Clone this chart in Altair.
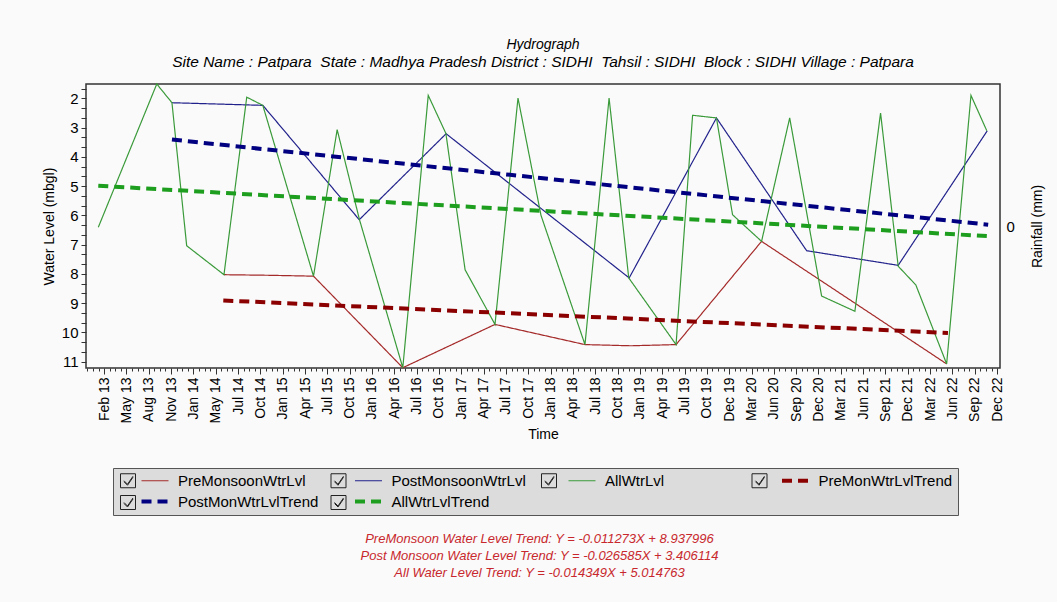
import json
import altair as alt
import pandas as pd

# ---------------- data ----------------
x_labels = ["Feb 13", "May 13", "Aug 13", "Nov 13", "Jan 14", "May 14", "Jul 14", "Oct 14",
            "Jan 15", "Apr 15", "Jul 15", "Oct 15", "Jan 16", "Apr 16", "Jul 16", "Oct 16",
            "Jan 17", "Apr 17", "Jul 17", "Oct 17", "Jan 18", "Apr 18", "Jul 18", "Oct 18",
            "Jan 19", "Apr 19", "Jul 19", "Oct 19", "Dec 19", "Mar 20", "Jun 20", "Sep 20",
            "Dec 20", "Mar 21", "Jun 21", "Sep 21", "Dec 21", "Mar 22", "Jun 22", "Sep 22", "Dec 22"]

series_names = ["PreMonsoonWtrLvl", "PostMonsoonWtrLvl", "AllWtrLvl",
                "PreMonWtrLvlTrend", "PostMonWtrLvlTrend", "AllWtrLvlTrend"]
series_colors = ["#A52A2A", "#22228C", "#3A9A3A", "#8B0000", "#000080", "#1E9E1E"]
series_widths = [1.2, 1.2, 1.2, 4, 4, 4]
series_dashes = [[1, 0], [1, 0], [1, 0], [10, 6], [10, 6], [10, 6]]

pre_t = [5.37, 7.40, 9.38, 13.38, 17.51, 21.54, 23.60, 25.62, 29.45, 37.74]
pre_v = [8.03, 8.05, 8.08, 11.21, 9.73, 10.42, 10.46, 10.42, 6.89, 11.08]

post_t = [3.04, 7.11, 11.43, 15.32, 23.52, 27.43, 31.47, 35.57, 39.56]
post_v = [2.15, 2.24, 6.15, 3.21, 8.14, 2.67, 7.21, 7.71, 3.11]

all_t = [-0.26, 2.36, 3.04, 3.70, 5.37, 6.39, 7.11, 9.38, 10.44, 11.44, 13.38, 14.52,
         15.31, 16.17, 17.51, 18.54, 19.57, 21.54, 22.62, 23.50, 25.62, 26.36, 27.43,
         28.15, 29.45, 30.71, 32.14, 33.63, 34.78, 35.57, 36.36, 37.74, 38.83, 39.54]
all_v = [6.41, 1.51, 2.15, 7.04, 8.03, 1.96, 2.24, 8.08, 3.07, 6.15, 11.21, 1.90,
         3.20, 7.86, 9.73, 1.99, 6.00, 10.42, 1.99, 8.14, 10.42, 2.58, 2.67,
         5.98, 6.89, 2.67, 8.76, 9.28, 2.50, 7.74, 8.38, 11.08, 1.90, 3.11]

pretrend_t = [5.34, 37.80]
pretrend_v = [8.91, 10.02]
posttrend_t = [3.04, 39.60]
posttrend_v = [3.41, 6.32]
alltrend_t = [-0.26, 39.54]
alltrend_v = [4.99, 6.71]

equations = ["PreMonsoon Water Level Trend: Y = -0.011273X + 8.937996",
             "Post Monsoon Water Level Trend: Y = -0.026585X + 3.406114",
             "All Water Level Trend: Y = -0.014349X + 5.014763"]
rainfall_ticks = [0]

# ---------------- tables ----------------
rows = []
for name, ts, vs in [(series_names[0], pre_t, pre_v), (series_names[1], post_t, post_v),
                     (series_names[2], all_t, all_v), (series_names[3], pretrend_t, pretrend_v),
                     (series_names[4], posttrend_t, posttrend_v), (series_names[5], alltrend_t, alltrend_v)]:
    for t, v in zip(ts, vs):
        rows.append({"series": name, "t": t, "level": v})
df = pd.DataFrame(rows)

SANS = "Liberation Sans"
NB = "\u00a0"

x_domain = [-0.81, 40.13]
x_scale = alt.Scale(domain=x_domain, nice=False, zero=False)

label_expr_x = json.dumps(x_labels) + "[round(datum.value)]"
major_axis = alt.Axis(values=list(range(len(x_labels))), labelExpr=label_expr_x, labelAngle=270,
                      labelAlign="right", labelBaseline="middle", labelFont=SANS, labelFontSize=14,
                      labelColor="black", labelPadding=3, tickSize=6, tickColor="#333", domain=False,
                      grid=False, title="Time", titleFont=SANS, titleFontSize=14, titleFontWeight="normal",
                      titleColor="black", titlePadding=5, orient="bottom", labelOverlap=False)

minor_vals = [k + f for k in range(-1, 41) for f in (0.25, 0.5, 0.75)
              if x_domain[0] <= k + f <= x_domain[1]]
minor_axis = alt.Axis(values=minor_vals, labels=False, tickSize=3, tickColor="#333", domain=False,
                      grid=False, orient="bottom", title=equations, titleFont=SANS, titleFontSize=13,
                      titleFontStyle="italic", titleFontWeight="normal", titleColor="#C8282D",
                      titleLineHeight=17, titleX=453, titleY=164, titleAlign="center",
                      titleBaseline="top")

y_vals = [2 + k / 3 for k in range(-1, 28)]
y_axis = alt.Axis(values=y_vals,
                  labelExpr="abs(datum.value - round(datum.value)) < 0.01 ? format(datum.value, 'd') : ''",
                  labelFont=SANS, labelFontSize=15, labelColor="black", labelPadding=3, tickSize=5,
                  tickColor="#333", domain=False, grid=False, title="Water Level (mbgl)", titleFont=SANS,
                  titleFontSize=14, titleFontWeight="normal", titleColor="black", titlePadding=5)

# legend symbol paths (unit = 3.5 px)
path_line = "M-6.857,0M6.857,0M-0.857,0L6.857,0"
path_box = ("M-6.857,0M49.9,0M-6.857,-2L-2.571,-2L-2.571,2L-6.857,2Z"
            "M-5.857,0L-4.857,1L-3.286,-1.286M-5.857,0.286L-4.857,1.286L-3.286,-1")

common = dict(orient="none", legendX=27, legendY=384, direction="horizontal", columns=4, title=None,
              symbolSize=49, symbolOffset=19, labelOffset=26, labelFont=SANS, labelFontSize=15,
              labelLimit=800, columnPadding=6.5, padding=5, gridAlign="all")

legend_a = alt.Legend(symbolType=path_line, fillColor="#DCDCDC", strokeColor="#555", labelColor="black",
                      rowPadding=4, **common)
legend_b = alt.Legend(symbolType=path_box, symbolFillColor="white", symbolStrokeColor="#222",
                      symbolStrokeWidth=1, symbolOpacity=1, labelExpr="''", rowPadding=3, **common)

lines = alt.Chart(df).mark_line().encode(
    x=alt.X("t:Q", scale=x_scale, axis=major_axis),
    y=alt.Y("level:Q", scale=alt.Scale(domain=[1.51, 11.22], reverse=True, nice=False, zero=False),
            axis=y_axis),
    color=alt.Color("series:N", scale=alt.Scale(domain=series_names, range=series_colors), legend=legend_a),
    strokeDash=alt.StrokeDash("series:N", scale=alt.Scale(domain=series_names, range=series_dashes),
                              legend=legend_a),
    strokeWidth=alt.StrokeWidth("series:N", scale=alt.Scale(type="ordinal", domain=series_names,
                                                            range=series_widths), legend=legend_a),
    detail="series:N",
)

minor = alt.Chart(pd.DataFrame({"m": [0.0]})).mark_point(opacity=0).encode(
    x=alt.X("m:Q", scale=x_scale, axis=minor_axis))

rain = alt.Chart(pd.DataFrame({"rain": rainfall_ticks})).mark_point(opacity=0).encode(
    y=alt.Y("rain:Q", scale=alt.Scale(domain=[-1, 1]),
            axis=alt.Axis(orient="right", values=rainfall_ticks, title="Rainfall (mm)", ticks=False,
                          domain=False, grid=False, labelFont=SANS, labelFontSize=15, labelColor="black",
                          labelPadding=6, titleFont=SANS, titleFontSize=14, titleFontWeight="normal",
                          titleColor="black", titlePadding=30, titleAngle=270)))

cb_values = [n + "#" for n in series_names]
checks = alt.Chart(pd.DataFrame({"cb": cb_values})).mark_point(opacity=0).encode(
    shape=alt.Shape("cb:N", scale=alt.Scale(domain=cb_values, range=[path_box] * 6), legend=legend_b))

subtitle = ("Site Name : Patpara " + NB + "State : Madhya Pradesh District : SIDHI " + NB +
            "Tahsil : SIDHI " + NB + "Block : SIDHI Village : Patpara")

chart = alt.layer(lines, minor, rain, checks).resolve_scale(y="independent").resolve_axis(
    x="independent").properties(
    width=914, height=284,
    title=alt.TitleParams(
        text="Hydrograph", subtitle=subtitle,
        font=SANS, fontSize=14, fontStyle="italic", fontWeight="normal", color="black",
        subtitleFont=SANS, subtitleFontSize=15.5, subtitleFontStyle="italic", subtitleColor="black",
        subtitlePadding=3, anchor="middle", offset=11, frame="group"),
    autosize=alt.AutoSizeParams(type="none"),
    padding={"left": 86, "top": 84, "right": 57, "bottom": 234},
).configure(background="#FAFAFA").configure_view(stroke="#333", strokeWidth=1.5, fill="#FAFAFA")

chart.save("out.html", embed_options={"renderer": "svg", "actions": False})
